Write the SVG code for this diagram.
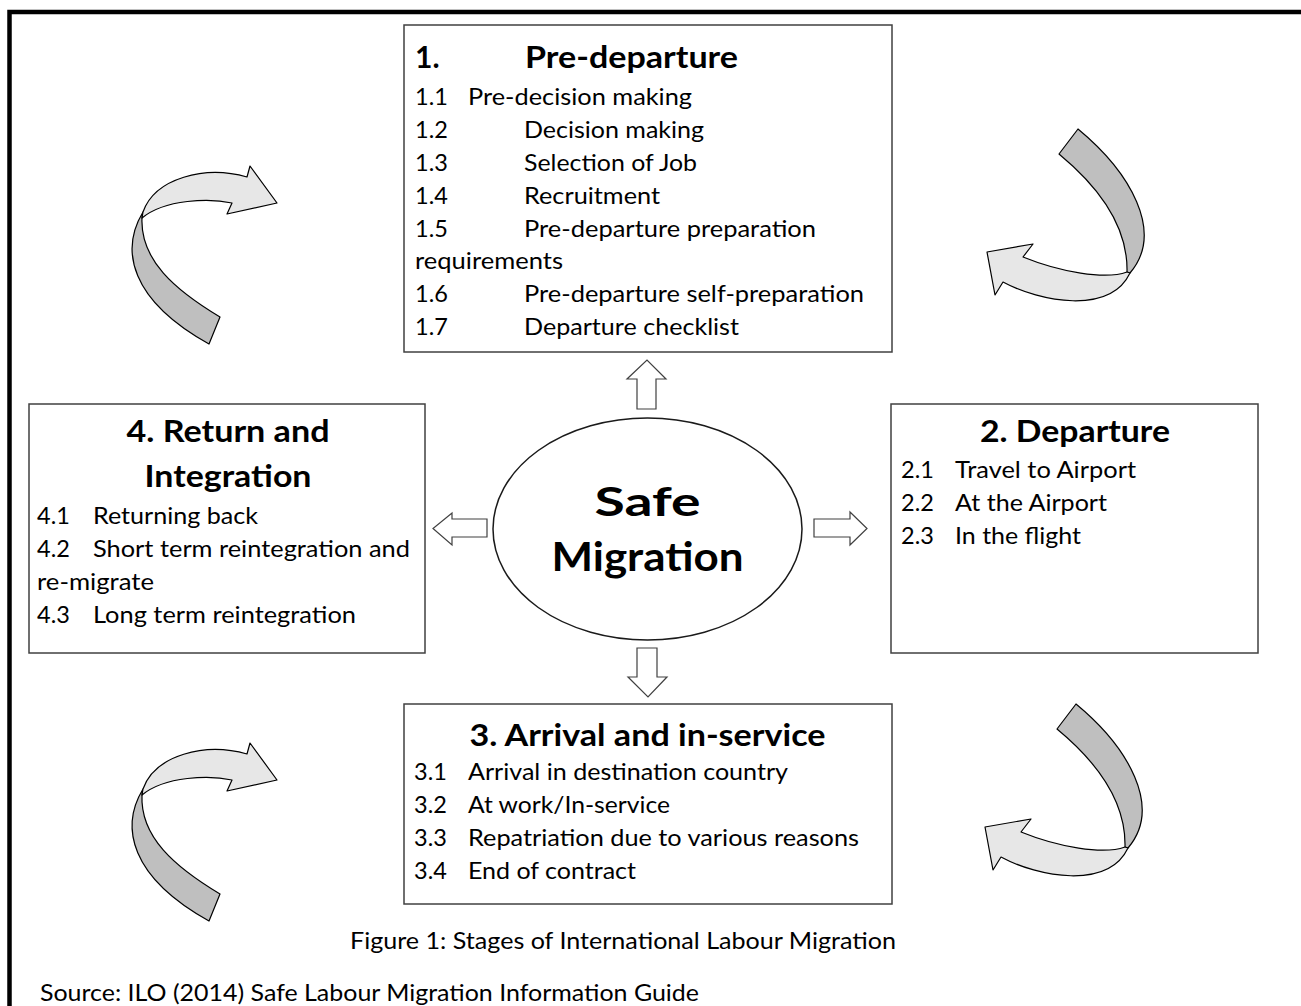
<svg xmlns="http://www.w3.org/2000/svg" xmlns:xlink="http://www.w3.org/1999/xlink" width="1301" height="1006" viewBox="0 0 1301 1006">
  <style>
    .box { fill: #ffffff; stroke: #404040; stroke-width: 1.5; }
    .hub { fill: #ffffff; stroke: #1a1a1a; stroke-width: 1.5; }
    .t { font-family: Lato, "Open Sans", "Liberation Sans", sans-serif; font-size: 23.5px; fill: #000000; }
    .h { font-family: Lato, "Open Sans", "Liberation Sans", sans-serif; font-size: 30px; font-weight: bold; fill: #000000; }
    .big { font-family: Lato, "Open Sans", "Liberation Sans", sans-serif; font-size: 40px; font-weight: bold; fill: #000000; }
    .blk { fill: #ffffff; stroke: #404040; stroke-width: 1.2; }
    .rib-dark { fill: #bfbfbf; stroke: #000000; stroke-width: 1.2; stroke-linejoin: round; }
    .rib-light { fill: #e7e7e7; stroke: #000000; stroke-width: 1.2; stroke-linejoin: round; }
  </style>
  <defs>
    <!-- curled arrow turning right (left side of the cycle) -->
    <g id="curl-right">
      <path class="rib-dark" d="M143,212 C120,250 130,300 209,344 L220,317 C175,290 140,260 142,218 Z"/>
      <path class="rib-light" d="M143,212 C155,178 205,165 247,177 L250,166 L277,203 L227,214 L232,203 C210,198 165,199 142,218 Z"/>
    </g>
    <!-- curled arrow turning left (right side of the cycle) -->
    <g id="curl-left">
      <path class="rib-dark" d="M1078,129 C1130,172 1165,232 1130,273 L1127,272 C1128,232 1105,192 1059,154 Z"/>
      <path class="rib-light" d="M1127,272 C1105,280 1060,272 1023,257 L1033,244 L987,252 L995,295 L1003,282 C1040,302 1110,315 1130,273 Z"/>
    </g>
  </defs>

  <rect width="1301" height="1006" fill="#ffffff"/>
  <!-- page frame: top and left rules -->
  <path d="M9.5,1006 V12 H1301" fill="none" stroke="#000000" stroke-width="4.5"/>

  <g id="pre-departure">
    <rect class="box" x="404" y="25" width="488" height="327"/>
    <text class="h" x="415" y="68">1.</text>
    <text class="h" x="525" y="68" textLength="213" lengthAdjust="spacingAndGlyphs">Pre-departure</text>
    <text class="t" x="415" y="105">1.1</text>
    <text class="t" x="468" y="105" textLength="224" lengthAdjust="spacingAndGlyphs">Pre-decision making</text>
    <text class="t" x="415" y="138">1.2</text>
    <text class="t" x="524" y="138" textLength="180" lengthAdjust="spacingAndGlyphs">Decision making</text>
    <text class="t" x="415" y="171">1.3</text>
    <text class="t" x="524" y="171" textLength="173" lengthAdjust="spacingAndGlyphs">Selection of Job</text>
    <text class="t" x="415" y="203.5">1.4</text>
    <text class="t" x="524" y="203.5" textLength="136" lengthAdjust="spacingAndGlyphs">Recruitment</text>
    <text class="t" x="415" y="236.5">1.5</text>
    <text class="t" x="524" y="236.5" textLength="292" lengthAdjust="spacingAndGlyphs">Pre-departure preparation</text>
    <text class="t" x="415" y="269" textLength="148" lengthAdjust="spacingAndGlyphs">requirements</text>
    <text class="t" x="415" y="302">1.6</text>
    <text class="t" x="524" y="302" textLength="340" lengthAdjust="spacingAndGlyphs">Pre-departure self-preparation</text>
    <text class="t" x="415" y="335">1.7</text>
    <text class="t" x="524" y="335" textLength="215" lengthAdjust="spacingAndGlyphs">Departure checklist</text>
  </g>

  <g id="departure">
    <rect class="box" x="891" y="404" width="367" height="249"/>
    <text class="h" x="1075" y="442" text-anchor="middle" textLength="190" lengthAdjust="spacingAndGlyphs">2. Departure</text>
    <text class="t" x="901" y="478">2.1</text>
    <text class="t" x="955" y="478" textLength="181" lengthAdjust="spacingAndGlyphs">Travel to Airport</text>
    <text class="t" x="901" y="511">2.2</text>
    <text class="t" x="955" y="511" textLength="152" lengthAdjust="spacingAndGlyphs">At the Airport</text>
    <text class="t" x="901" y="544">2.3</text>
    <text class="t" x="955" y="544" textLength="126" lengthAdjust="spacingAndGlyphs">In the flight</text>
  </g>

  <g id="arrival">
    <rect class="box" x="404" y="704" width="488" height="200"/>
    <text class="h" x="647.5" y="746" text-anchor="middle" textLength="356" lengthAdjust="spacingAndGlyphs">3. Arrival and in-service</text>
    <text class="t" x="414" y="780">3.1</text>
    <text class="t" x="468" y="780" textLength="320" lengthAdjust="spacingAndGlyphs">Arrival in destination country</text>
    <text class="t" x="414" y="813">3.2</text>
    <text class="t" x="468" y="813" textLength="202" lengthAdjust="spacingAndGlyphs">At work/In-service</text>
    <text class="t" x="414" y="846">3.3</text>
    <text class="t" x="468" y="846" textLength="391" lengthAdjust="spacingAndGlyphs">Repatriation due to various reasons</text>
    <text class="t" x="414" y="879">3.4</text>
    <text class="t" x="468" y="879" textLength="168" lengthAdjust="spacingAndGlyphs">End of contract</text>
  </g>

  <g id="return">
    <rect class="box" x="29" y="404" width="396" height="249"/>
    <text class="h" x="228" y="442" text-anchor="middle" textLength="203" lengthAdjust="spacingAndGlyphs">4. Return and</text>
    <text class="h" x="228" y="487" text-anchor="middle" textLength="167" lengthAdjust="spacingAndGlyphs">Integration</text>
    <text class="t" x="37" y="524">4.1</text>
    <text class="t" x="93" y="524" textLength="165" lengthAdjust="spacingAndGlyphs">Returning back</text>
    <text class="t" x="37" y="557">4.2</text>
    <text class="t" x="93" y="557" textLength="317" lengthAdjust="spacingAndGlyphs">Short term reintegration and</text>
    <text class="t" x="37" y="590" textLength="117" lengthAdjust="spacingAndGlyphs">re-migrate</text>
    <text class="t" x="37" y="623">4.3</text>
    <text class="t" x="93" y="623" textLength="263" lengthAdjust="spacingAndGlyphs">Long term reintegration</text>
  </g>

  <g id="safe-migration">
    <ellipse class="hub" cx="647.5" cy="529" rx="154.5" ry="111"/>
    <text class="big" x="647.5" y="516" text-anchor="middle" textLength="106" lengthAdjust="spacingAndGlyphs">Safe</text>
    <text class="big" x="647.5" y="571" text-anchor="middle" textLength="192" lengthAdjust="spacingAndGlyphs">Migration</text>
  </g>

  <g id="connectors">
    <!-- block arrows from the hub to each stage -->
    <path class="blk" d="M637,409 V379 H627 L647,360 L666,379 H656 V409 Z"/>
    <path class="blk" d="M637,648 V677 H628 L648,697 L667,677 H657 V648 Z"/>
    <path class="blk" d="M487,519 H452 V513 L433,528.5 L452,545 V537 H487 Z"/>
    <path class="blk" d="M814,519 H850 V512 L867,528.5 L850,545 V537 H814 Z"/>
    <!-- curled arrows around the cycle -->
    <use xlink:href="#curl-right"/>
    <use xlink:href="#curl-right" transform="translate(0,577)"/>
    <use xlink:href="#curl-left"/>
    <use xlink:href="#curl-left" transform="translate(-2,575)"/>
  </g>

  <g id="caption">
    <text class="t" x="350" y="949" textLength="546" lengthAdjust="spacingAndGlyphs">Figure 1: Stages of International Labour Migration</text>
    <text class="t" x="40" y="1001" textLength="659" lengthAdjust="spacingAndGlyphs">Source: ILO (2014) Safe Labour Migration Information Guide</text>
  </g>
</svg>
